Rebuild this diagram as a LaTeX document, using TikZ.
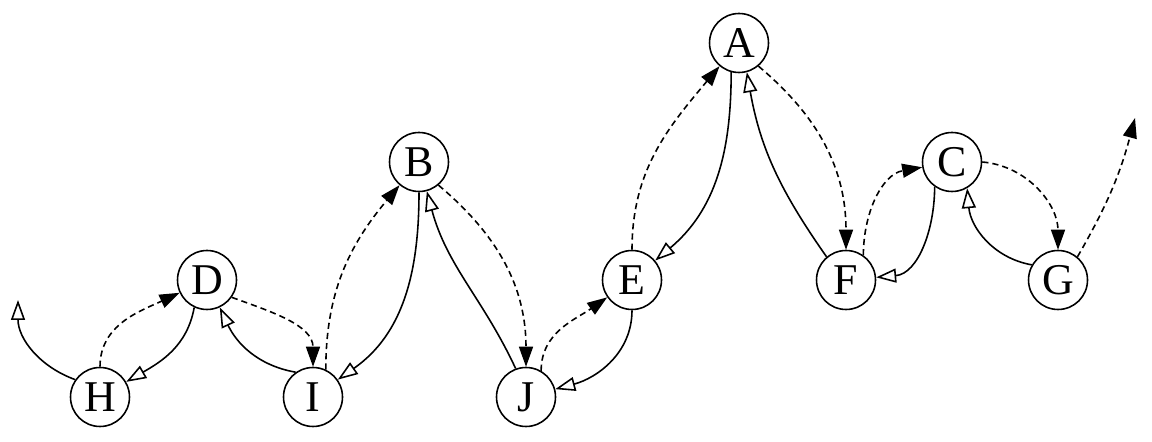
\documentclass[tikz,border=0pt]{standalone}
\usepackage{fontspec}
\setmainfont{Liberation Serif}
\usetikzlibrary{arrows.meta}
\begin{document}
\begin{tikzpicture}[x=0.02cm,y=0.02cm,
  vtx/.style={circle,draw,line width=0.9pt,minimum size=1.18cm,inner sep=0pt,font=\fontsize{25}{25}\selectfont},
  back/.style={line width=0.9pt,-{Triangle[open,length=0.4cm,width=0.28cm]}},
  fwd/.style={line width=0.9pt,dash pattern=on 3.5pt off 2.3pt,-{Triangle[length=0.4cm,width=0.28cm]}}]
\useasboundingbox (0,0) rectangle (1152,442);
\node[vtx] (A) at (739,399) {A};
\node[vtx] (B) at (419,280) {B};
\node[vtx] (C) at (952,280) {C};
\node[vtx] (D) at (207,162) {D};
\node[vtx] (E) at (632,162) {E};
\node[vtx] (F) at (846,162) {F};
\node[vtx] (G) at (1058,162) {G};
\node[vtx] (H) at (100,45) {H};
\node[vtx] (I) at (313,45) {I};
\node[vtx] (J) at (526,45) {J};
\coordinate (fH) at (18,142);
\coordinate (fG) at (1135,324);
\draw[back] (H.145) to[out=160,in=270] (fH);
\draw[fwd] (H.90) to[out=90,in=205] (D.205);
\draw[back] (D.245) to[out=260,in=30] (H.30);
\draw[fwd] (D.325) to[out=-20,in=90] (I.90);
\draw[back] (I.125) to[out=170,in=295] (D.295);
\draw[fwd] (I.65) to[out=90,in=230] (B.230);
\draw[back] (B.270) to[out=270,in=35] (I.35);
\draw[fwd] (B.310) to[out=-40,in=90] (J.90);
\draw[back] (J.110) to[out=115,in=285] (B.285);
\draw[fwd] (J.60) to[out=90,in=215] (E.215);
\draw[back] (E.270) to[out=270,in=15] (J.15);
\draw[fwd] (E.90) to[out=90,in=230] (A.230);
\draw[back] (A.255) to[out=270,in=40] (E.40);
\draw[fwd] (A.310) to[out=-40,in=90] (F.90);
\draw[back] (F.130) to[out=125,in=280] (A.285);
\draw[fwd] (F.55) to[out=90,in=190] (C.190);
\draw[back] (C.235) to[out=270,in=5] (F.5);
\draw[fwd] (C.0) to[out=-5,in=90] (G.90);
\draw[back] (G.150) to[out=170,in=275] (C.300);
\draw[fwd] (G.50) to[out=60,in=255] (fG);
\end{tikzpicture}
\end{document}
